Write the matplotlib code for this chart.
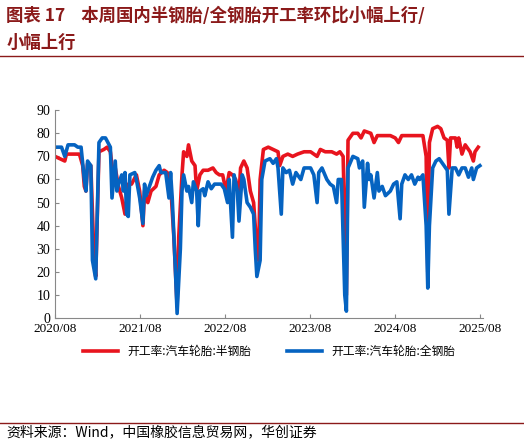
import numpy as np
import pandas as pd
import matplotlib
matplotlib.use("Agg")
import matplotlib.pyplot as plt
import matplotlib.dates as mdates

plt.rcParams['font.family'] = ['Noto Sans CJK SC', 'DejaVu Sans']

# ── data: weeks since 2020-08-01, operating rate (%) ─────────────────────────
semi_weeks = [0, 6, 7, 14, 15, 17, 18, 19, 20, 22, 24, 25, 27, 30, 32, 34, 36, 37, 39, 41, 43, 45, 47,
              50, 52, 54, 55, 57, 59, 62, 64, 67, 69, 71, 73, 75, 76, 78, 79, 81, 82, 84, 86, 87, 89,
              91, 94, 97, 99, 101, 103, 105, 107, 109, 111, 113, 114, 116, 118, 120, 122, 124, 125,
              126, 128, 131, 134, 137, 138, 140, 143, 146, 149, 153, 157, 161, 163, 166, 170, 173,
              175, 177, 179, 180, 183, 186, 188, 190, 194, 196, 198, 202, 206, 209, 211, 213, 218,
              222, 226, 228, 229, 230, 232, 235, 237, 239, 241, 242, 243, 246, 247, 248, 250, 252,
              254, 255, 257, 258, 260]
semi_vals = [70, 68, 71, 71, 71, 66, 57, 55, 67, 66, 25, 18, 72, 73, 74, 72, 60, 65, 57, 52, 45, 58, 58,
             62, 55, 40, 55, 50, 55, 57, 62, 64, 63, 58, 35, 5, 35, 62, 72, 70, 75, 68, 66, 55, 62,
             64, 64, 65, 63, 62, 62, 55, 63, 62, 60, 53, 65, 68, 65, 55, 50, 30, 25,
             60, 73, 74, 73, 72, 66, 70, 71, 70, 71, 72, 72, 70, 73, 72, 72, 71,
             72, 70, 10, 77, 80, 80, 78, 81, 80, 76, 79, 79, 79, 78, 76, 79, 79,
             79, 79, 70, 20, 76, 82, 83, 82, 78, 77, 65, 78, 78, 74, 78, 71, 75,
             73, 72, 68, 72, 74]

full_weeks = [0, 4, 6, 8, 12, 14, 16, 18, 19, 20, 22, 23, 25, 27, 29, 31, 34, 35, 37, 38, 39, 41, 42,
              43, 44, 45, 46, 49, 50, 52, 54, 55, 56, 58, 60, 62, 64, 65, 68, 70, 71, 72, 74, 75, 77,
              78, 79, 81, 82, 84, 85, 87, 88, 89, 91, 92, 94, 96, 98, 100, 102, 104, 106, 107, 109,
              110, 112, 113, 115, 116, 118, 120, 122, 123, 124, 126, 127, 129, 132, 134, 136, 137,
              139, 140, 142, 144, 146, 148, 151, 153, 157, 159, 161, 162, 164, 167, 169, 171, 173,
              174, 176, 178, 179, 180, 183, 186, 187, 189, 190, 192, 193, 194, 196, 198, 199, 201,
              203, 206, 208, 210, 212, 213, 215, 217, 219, 221, 223, 224, 226, 228, 229, 230, 232,
              234, 236, 239, 241, 242, 244, 246, 248, 250, 252, 254, 256, 257, 259, 261]
full_vals = [74, 74, 70, 75, 75, 74, 74, 60, 55, 68, 66, 25, 17, 76, 78, 78, 74, 52, 68, 55, 58, 62, 55,
             63, 45, 44, 62, 63, 60, 52, 41, 58, 53, 57, 61, 64, 66, 63, 63, 52, 63, 52, 20, 2, 30,
             55, 62, 55, 57, 50, 59, 55, 40, 55, 56, 53, 59, 56, 58, 58, 58, 56, 50, 60, 35,
             62, 55, 42, 62, 60, 50, 48, 45, 30, 18, 25, 60, 68, 69, 67, 69, 65,
             45, 65, 63, 64, 58, 63, 60, 65, 65, 62, 50, 63, 65, 60, 58, 57, 50,
             60, 60, 10, 3, 65, 70, 69, 65, 68, 48, 67, 60, 62, 52, 63, 55, 57,
             53, 55, 58, 59, 43, 58, 62, 60, 62, 58, 61, 60, 62, 40, 13, 40, 65,
             68, 69, 66, 64, 45, 65, 65, 62, 65, 65, 61, 65, 60, 65, 66]

tick_labels = ["2020/08", "2021/08", "2022/08", "2023/08", "2024/08", "2025/08"]

START = pd.Timestamp("2020-08-01")


def to_dates(weeks):
    return [START + pd.Timedelta(weeks=w) for w in weeks]


fig = plt.figure(figsize=(5.24, 4.48), dpi=100)
ax = fig.add_axes([0.105, 0.29, 0.817, 0.464])

ax.plot(to_dates(semi_weeks), semi_vals, color="#e8141e", lw=2.6, label="开工率:汽车轮胎:半钢胎")
ax.plot(to_dates(full_weeks), full_vals, color="#0563c1", lw=2.6, label="开工率:汽车轮胎:全钢胎")

ticks = [pd.Timestamp(t.replace("/", "-") + "-01") for t in tick_labels]
ax.set_xticks(ticks)
ax.set_xticklabels(tick_labels, family=["Liberation Serif"], fontsize=9.5)
ax.set_xlim(ticks[0], START + pd.Timedelta(weeks=263))
ax.set_ylim(0, 90)
ax.set_yticks(range(0, 91, 10))
for lab in ax.get_yticklabels():
    lab.set_family(["Liberation Serif"])
    lab.set_fontsize(10)
ax.tick_params(direction="in", length=3, color="#888888")
for s in ["top", "right"]:
    ax.spines[s].set_visible(False)
for s in ["left", "bottom"]:
    ax.spines[s].set_color("#888888")

ax.legend(loc="upper center", bbox_to_anchor=(0.5, -0.08), ncol=2, frameon=False,
          fontsize=8.5, handlelength=3, columnspacing=3)

fig.text(0.012, 0.965, "图表 17    本周国内半钢胎/全钢胎开工率环比小幅上行/", fontsize=12.5,
         fontweight="bold", color="#8b1a1a", va="center")
fig.text(0.012, 0.905, "小幅上行", fontsize=12.5, fontweight="bold", color="#8b1a1a", va="center")
fig.add_artist(plt.Line2D([0.0, 1.0], [0.875, 0.875], color="#8b1a1a", lw=1))
fig.add_artist(plt.Line2D([0.0, 1.0], [0.055, 0.055], color="#8b1a1a", lw=1))
fig.text(0.012, 0.035, "资料来源：Wind，中国橡胶信息贸易网，华创证券", fontsize=10,
         style="italic", va="center")

fig.savefig("out.png", dpi=100)
